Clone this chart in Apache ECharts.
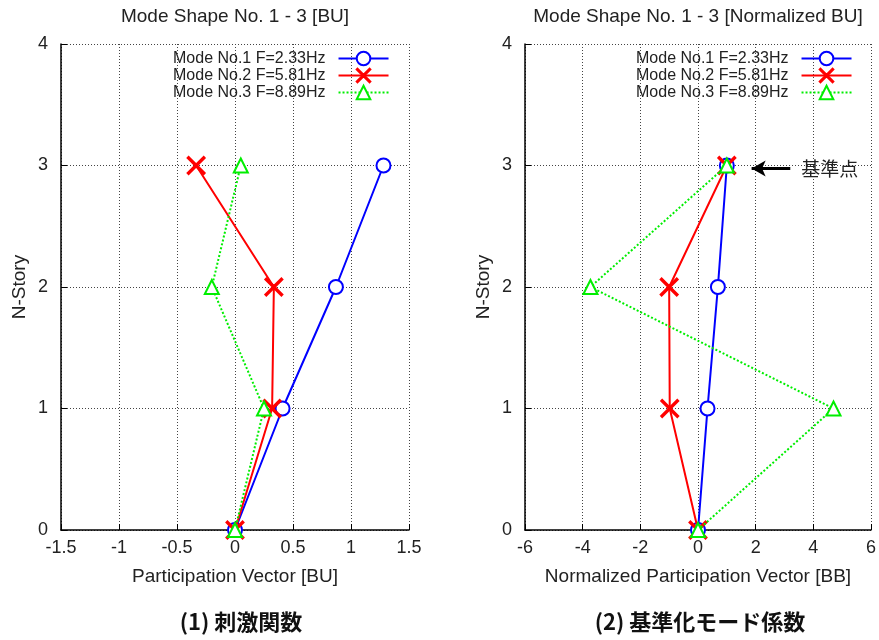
<!DOCTYPE html>
<html>
<head>
<meta charset="utf-8">
<script src="https://cdn.jsdelivr.net/npm/echarts@6/dist/echarts.min.js"></script>
<style>
html,body{margin:0;padding:0;background:#fff;}
#c{width:879px;height:640px;}
</style>
</head>
<body>
<div id="c"></div>
<script>
// ---- data ----
const stories = [0, 1, 2, 3];
const seriesNames = ['Mode No.1 F=2.33Hz', 'Mode No.2 F=5.81Hz', 'Mode No.3 F=8.89Hz'];
const mode1BU = [0, 0.41, 0.87, 1.28];
const mode2BU = [0, 0.32, 0.335, -0.335];
const mode3BU = [0, 0.25, -0.20, 0.05];
const mode1Norm = [0, 0.33, 0.69, 1.0];
const mode2Norm = [0, -0.98, -1.0, 1.0];
const mode3Norm = [0, 4.70, -3.73, 1.0];
const xTicksLeft = { min: -1.5, max: 1.5, interval: 0.5 };
const xTicksRight = { min: -6, max: 6, interval: 2 };
const yTicks = { min: 0, max: 4, interval: 1 };
const refPointArrow = { from: [3.2, 2.975], to: [1.86, 2.975], label: '基準点' };

const colors = ['#0000ff', '#ff0000', '#00ee00'];
const crossPath = 'path://M0,1.1L1.1,0L10,8.9L18.9,0L20,1.1L11.1,10L20,18.9L18.9,20L10,11.1L1.1,20L0,18.9L8.9,10Z';
const symbols = ['emptyCircle', crossPath, 'emptyTriangle'];
const symbolSizes = [14, 17, 14];
const lineTypes = ['solid', 'solid', 'dotted'];

const pairs = (xs) => stories.map((s, i) => [xs[i], s]);

const baseFont = 'Liberation Sans';
const tickFont = { fontFamily: baseFont, fontSize: 18, color: '#222' };
const gridLine = { show: true, lineStyle: { color: '#444', type: [1, 2], width: 1 } };

function xAxis(idx, t, name) {
  return {
    type: 'value', gridIndex: idx, min: t.min, max: t.max, interval: t.interval,
    name: name, nameLocation: 'middle', nameGap: 37,
    nameTextStyle: { fontFamily: baseFont, fontSize: 19, color: '#222' },
    axisLine: { show: true, onZero: false, lineStyle: { color: '#000', width: 1.5 } },
    axisTick: { show: true, inside: true, length: 6, lineStyle: { color: '#000' } },
    axisLabel: Object.assign({ margin: 9 }, tickFont),
    splitLine: gridLine
  };
}
function yAxis(idx) {
  return {
    type: 'value', gridIndex: idx, min: yTicks.min, max: yTicks.max, interval: yTicks.interval,
    name: 'N-Story', nameLocation: 'middle', nameGap: 32,
    nameTextStyle: { fontFamily: baseFont, fontSize: 19, color: '#222' },
    axisLine: { show: true, onZero: false, lineStyle: { color: '#000', width: 1.5 } },
    axisTick: { show: true, inside: true, length: 6, lineStyle: { color: '#000' } },
    axisLabel: Object.assign({ margin: 13 }, tickFont),
    splitLine: gridLine
  };
}

function makeSeries(idx, datasets) {
  return datasets.map((d, k) => ({
    name: seriesNames[k], type: 'line', xAxisIndex: idx, yAxisIndex: idx,
    data: pairs(d), symbol: symbols[k], symbolSize: symbolSizes[k],
    showAllSymbol: true, animation: false, z: 3 + k,
    lineStyle: { color: colors[k], width: 2, type: lineTypes[k] },
    itemStyle: { color: colors[k], borderColor: colors[k], borderWidth: 2 }
  }));
}

const seriesLeft = makeSeries(0, [mode1BU, mode2BU, mode3BU]);
const seriesRight = makeSeries(1, [mode1Norm, mode2Norm, mode3Norm]);
seriesRight[2].markLine = {
  silent: true, animation: false, symbolSize: [12, 14],
  lineStyle: { color: '#000', width: 3, type: 'solid' },
  label: { show: true, position: 'start', distance: 11, formatter: refPointArrow.label,
           fontFamily: 'Noto Sans CJK JP', fontSize: 19, color: '#222' },
  data: [[
    { coord: refPointArrow.from, symbol: 'none' },
    { coord: refPointArrow.to, symbol: 'arrow' }
  ]]
};

function legend(left) {
  return {
    data: seriesNames, orient: 'vertical', left: left, top: 45, align: 'right',
    itemWidth: 50, itemHeight: 17, itemGap: 0, selectedMode: false,
    textStyle: { fontFamily: baseFont, fontSize: 16, lineHeight: 17, color: '#222', padding: [0, 8, 0, 0] }
  };
}

const titleFont = { fontFamily: baseFont, fontSize: 19, fontWeight: 'normal', color: '#222' };
const capFont = { fontFamily: 'Noto Sans CJK JP', fontSize: 22, fontWeight: 'bold', color: '#111' };

const chart = echarts.init(document.getElementById('c'), null, { renderer: 'canvas' });
chart.setOption({
  backgroundColor: '#fff',
  animation: false,
  title: [
    { text: 'Mode Shape No. 1 - 3 [BU]', left: 235, top: 7, textAlign: 'center', padding: 0, textStyle: titleFont },
    { text: 'Mode Shape No. 1 - 3 [Normalized BU]', left: 698, top: 7, textAlign: 'center', padding: 0, textStyle: titleFont },
    { text: '(1) 刺激関数', left: 241, top: 611, textAlign: 'center', padding: 0, textStyle: capFont },
    { text: '(2) 基準化モード係数', left: 700, top: 611, textAlign: 'center', padding: 0, textStyle: capFont }
  ],
  legend: [legend(168), legend(631)],
  grid: [
    { left: 61, top: 44, width: 348, height: 486 },
    { left: 525, top: 44, width: 347, height: 486 }
  ],
  xAxis: [xAxis(0, xTicksLeft, 'Participation Vector [BU]'), xAxis(1, xTicksRight, 'Normalized Participation Vector [BB]')],
  yAxis: [yAxis(0), yAxis(1)],
  series: seriesLeft.concat(seriesRight)
});
</script>
</body>
</html>
